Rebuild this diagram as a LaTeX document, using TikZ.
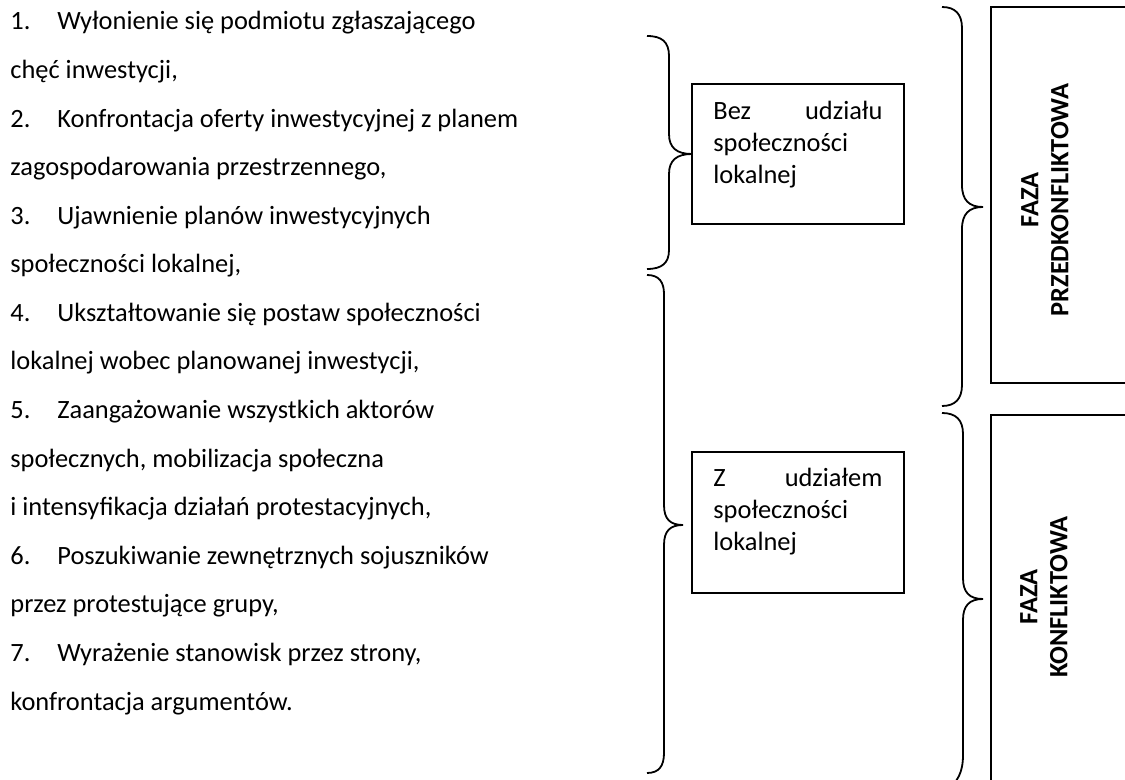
\documentclass[tikz,border=0pt]{standalone}
\usepackage{fontspec}
\setmainfont{Carlito}
\begin{document}
\begin{tikzpicture}[x=0.5pt,y=-0.5pt,
  listtxt/.style={anchor=base west, inner sep=0pt, font=\fontsize{13.2}{16}\selectfont},
  boxtxt/.style={anchor=base west, inner sep=0pt, font=\fontsize{13.2}{16}\selectfont},
  phasetxt/.style={rotate=90, inner sep=0pt, align=center, font=\fontsize{13.2}{15}\selectfont\bfseries},
  frame/.style={draw=black, line width=1pt},
  bracepath/.style={draw=black, line width=0.9pt}]
\useasboundingbox (0,0) rectangle (1125,780);
\clip (0,0) rectangle (1125,780);
% list
\node[listtxt] (n1) at (10,30) {1.};
\node[listtxt] (t1) at (57,30) {Wyłonienie się podmiotu zgłaszającego};
\node[listtxt] (t1b) at (10,78.6) {chęć inwestycji,};
\node[listtxt] (n2) at (10,127.6) {2.};
\node[listtxt] (t2) at (57,127.6) {Konfrontacja oferty inwestycyjnej z planem};
\node[listtxt] (t2b) at (10,175.7) {zagospodarowania przestrzennego,};
\node[listtxt] (n3) at (10,224.3) {3.};
\node[listtxt] (t3) at (57,224.3) {Ujawnienie planów inwestycyjnych};
\node[listtxt] (t3b) at (10,272.9) {społeczności lokalnej,};
\node[listtxt] (n4) at (10,321.4) {4.};
\node[listtxt] (t4) at (57,321.4) {Ukształtowanie się postaw społeczności};
\node[listtxt] (t4b) at (10,370) {lokalnej wobec planowanej inwestycji,};
\node[listtxt] (n5) at (10,418.6) {5.};
\node[listtxt] (t5) at (57,418.6) {Zaangażowanie wszystkich aktorów};
\node[listtxt] (t5b) at (10,467.1) {społecznych, mobilizacja społeczna};
\node[listtxt] (t5c) at (10,515.7) {i intensyfikacja działań protestacyjnych,};
\node[listtxt] (n6) at (10,564.3) {6.};
\node[listtxt] (t6) at (57,564.3) {Poszukiwanie zewnętrznych sojuszników};
\node[listtxt] (t6b) at (10,612.9) {przez protestujące grupy,};
\node[listtxt] (n7) at (10,661.4) {7.};
\node[listtxt] (t7) at (57,661.4) {Wyrażenie stanowisk przez strony,};
\node[listtxt] (t7b) at (10,710) {konfrontacja argumentów.};
% middle boxes
\draw[frame] (692,84) rectangle (904,224);
\node[boxtxt] (b1) at (713,120) {\begin{tabular}[t]{@{}l@{}}\makebox[84.5pt][s]{Bez udziału}\\społeczności\\lokalnej\end{tabular}};
\draw[frame] (692,452) rectangle (904,593);
\node[boxtxt] (b2) at (713,487) {\begin{tabular}[t]{@{}l@{}}\makebox[84.5pt][s]{Z udziałem}\\społeczności\\lokalnej\end{tabular}};
% right boxes
\draw[frame] (991,7) rectangle (1140,383);
\node[phasetxt] (p1) at (1045,200) {FAZA\\PRZEDKONFLIKTOWA};
\draw[frame] (991,415) rectangle (1140,800);
\node[phasetxt] (p2) at (1044,597) {FAZA\\KONFLIKTOWA};
% braces
\draw[bracepath] (647,36) .. controls (662,36) and (669,42) .. (669,56) -- (669,134)
  .. controls (669,148) and (677,154) .. (692,154)
  .. controls (677,154) and (669,160) .. (669,174) -- (669,250)
  .. controls (669,263) and (662,269) .. (647,269);
\draw[bracepath] (647,275) .. controls (659,275) and (664,282) .. (664,294) -- (664,505)
  .. controls (664,519) and (670,525) .. (683,525)
  .. controls (670,525) and (664,531) .. (664,545) -- (664,753)
  .. controls (664,766) and (659,773) .. (647,773);
\draw[bracepath] (942,7) .. controls (955,7) and (962,14) .. (962,28) -- (962,185)
  .. controls (962,200) and (969,207) .. (983,207)
  .. controls (969,207) and (962,214) .. (962,229) -- (962,385)
  .. controls (962,399) and (955,406) .. (942,406);
\draw[bracepath] (942,413) .. controls (956,413) and (963,420) .. (963,434) -- (963,578)
  .. controls (963,592) and (969,599) .. (983,599)
  .. controls (969,599) and (963,606) .. (963,620) -- (963,755)
  .. controls (963,772) and (958,782) .. (945,792);
\end{tikzpicture}
\end{document}
